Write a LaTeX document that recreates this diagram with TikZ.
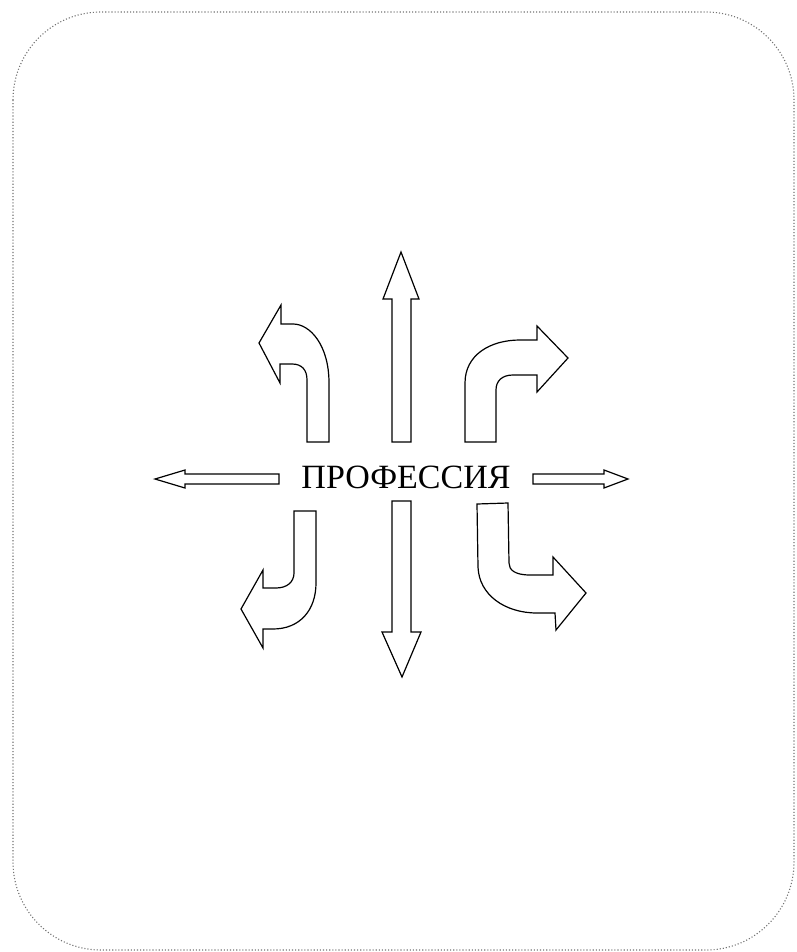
\documentclass[tikz,border=0pt]{standalone}
\usepackage{fontspec}
\setmainfont{Liberation Serif}
\begin{document}
\begin{tikzpicture}[x=1pt, y=-1pt,
    arr/.style={draw=black, line width=1.2pt, fill=white, line join=miter}]
        \useasboundingbox (0,0) rectangle (796,952);
        % frame
        \draw[black!55, dotted, line width=1.1pt, rounded corners=88pt] (13,12) rectangle (794,950);

        \node (prof) at (406,477) {\fontsize{34}{40}\selectfont ПРОФЕССИЯ};

        % straight arrows
        \draw[arr] (392,442) -- (392,299) -- (383,299) -- (401,252) -- (419,299) -- (411,299) -- (411,442) -- cycle;
        \draw[arr] (392,501) -- (392,632) -- (382,632) -- (402,677) -- (421,632) -- (411,632) -- (411,501) -- cycle;
        \draw[arr] (279,474) -- (185,474) -- (185,470) -- (155,479) -- (185,488) -- (185,484) -- (279,484) -- cycle;
        \draw[arr] (533,474) -- (604,474) -- (604,470) -- (628,479) -- (604,488) -- (604,484) -- (533,484) -- cycle;

        % bent arrows, top
        \draw[arr] (329,442) -- (329,383) .. controls (329,345) and (310,324) .. (293,324) -- (281,324) -- (281,305)
            -- (259,343) -- (280,383) -- (280,364) -- (292,364) .. controls (302,364) and (307,370) .. (307,380) -- (307,442) -- cycle;
        \draw[arr] (465,442) -- (465,383) .. controls (465,355) and (490,340) .. (520,340) -- (537,340) -- (537,326)
            -- (568,358) -- (537,392) -- (537,375) -- (513,375) .. controls (502,375) and (496,381) .. (496,390) -- (496,442) -- cycle;

        % bent arrows, bottom
        \draw[arr] (294,511) -- (294,573) .. controls (294,582) and (287,588) .. (276,588) -- (263,588) -- (263,570)
            -- (241,609) -- (263,648) -- (263,629) -- (273,629) .. controls (300,629) and (316,610) .. (316,583) -- (316,511) -- cycle;
        \draw[arr] (477,504) -- (478,567) .. controls (479,595) and (505,613) .. (537,613) -- (555,613) -- (556,630)
            -- (586,593) -- (553,557) -- (553,575) -- (530,575) .. controls (515,575) and (509,570) .. (509,563) -- (508,503) -- cycle;
    \end{tikzpicture}
\end{document}
